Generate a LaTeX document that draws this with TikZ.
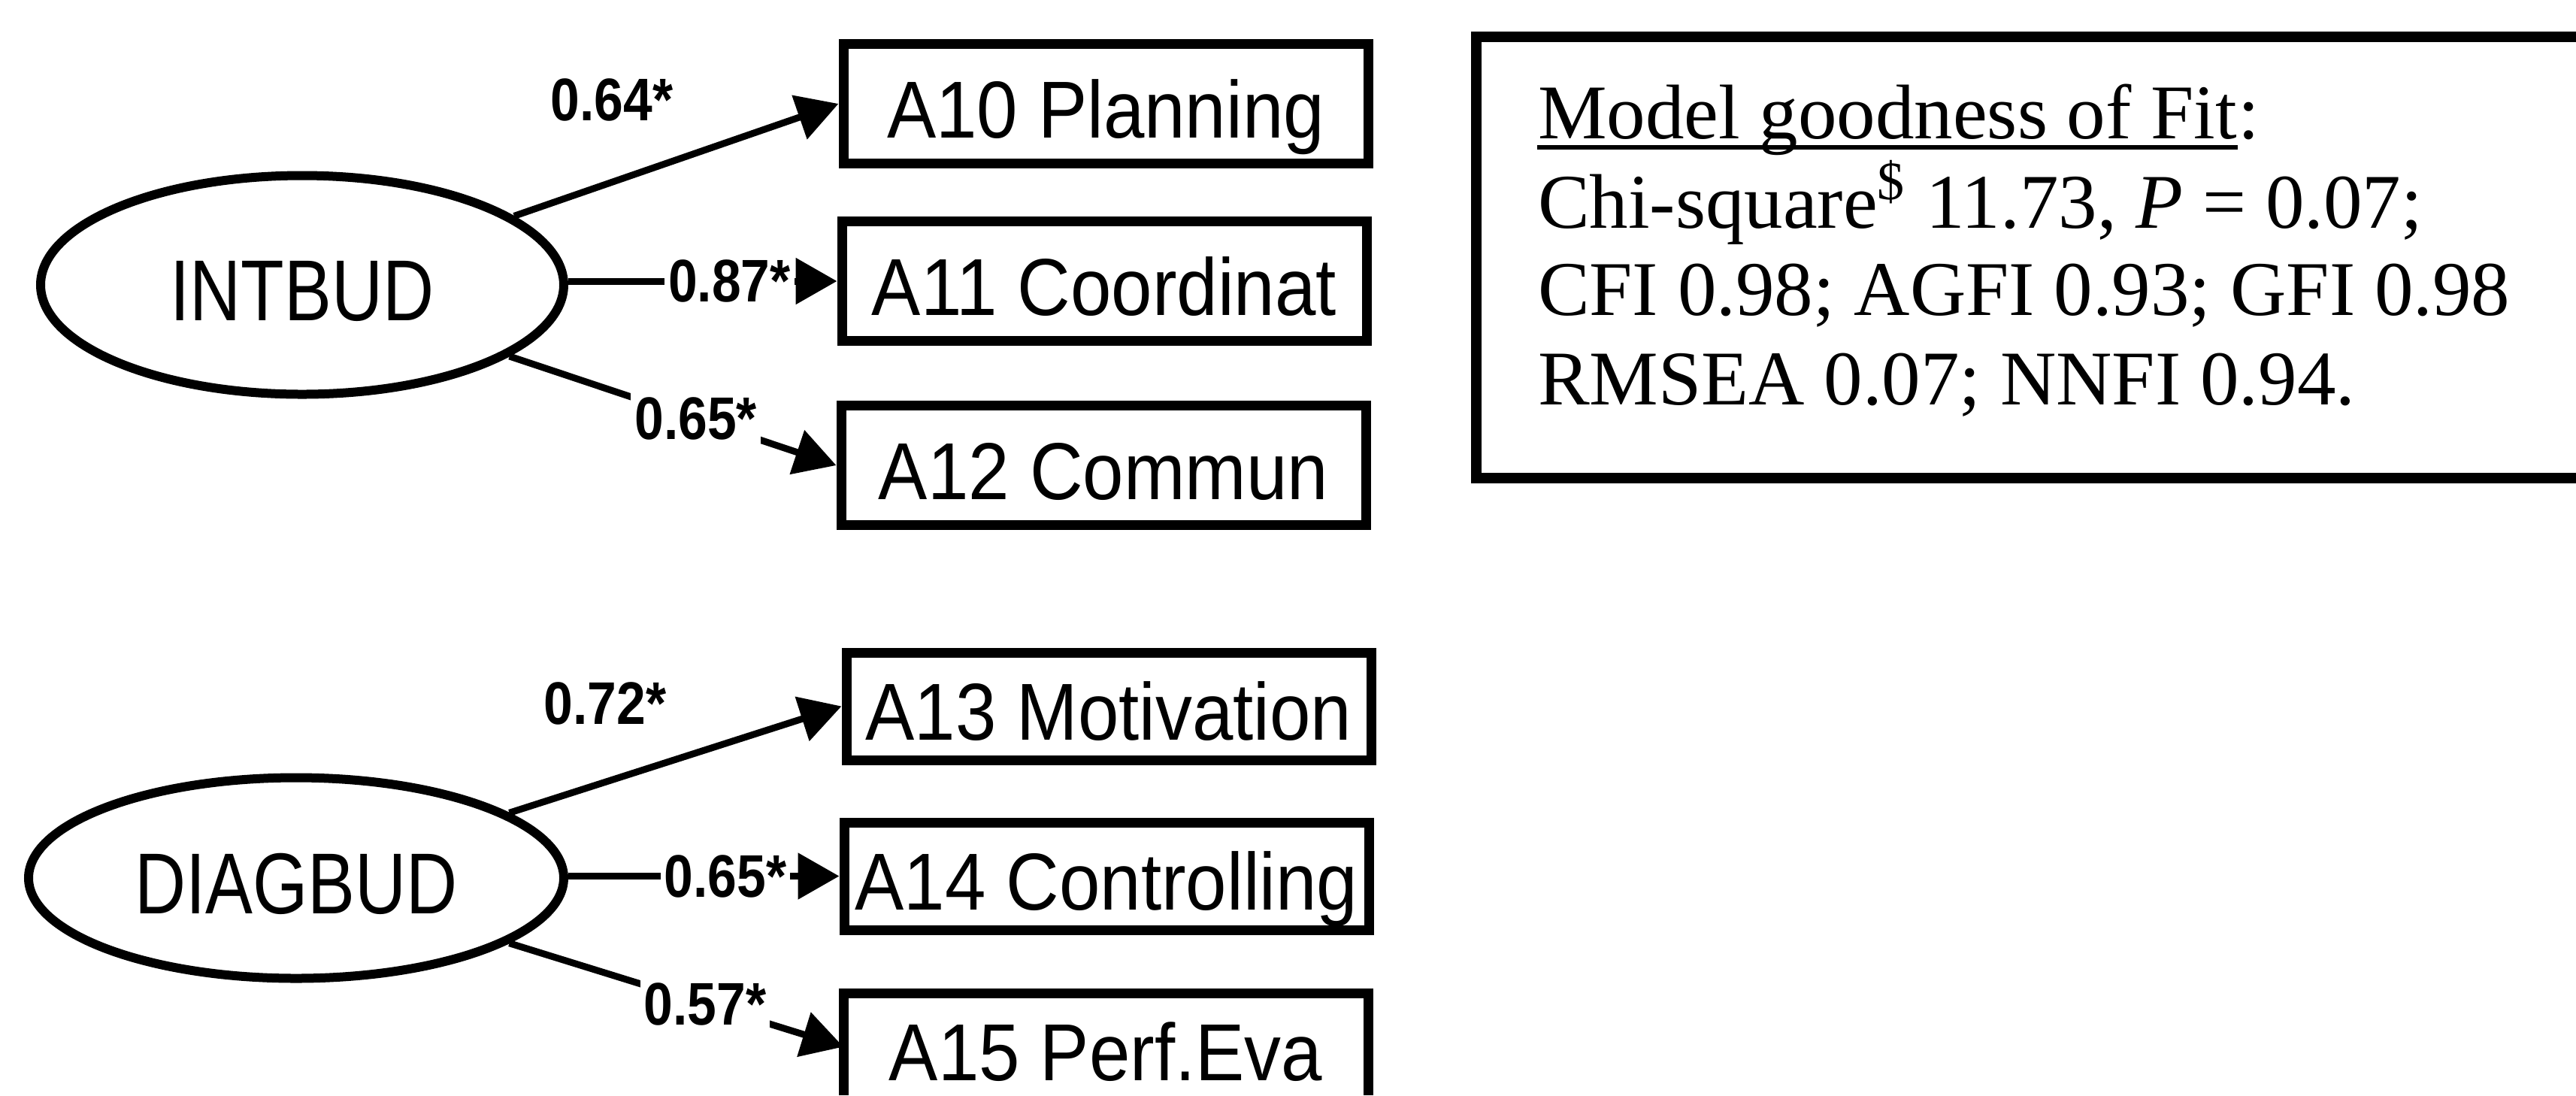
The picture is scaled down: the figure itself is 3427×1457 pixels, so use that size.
\documentclass[tikz,border=0pt]{standalone}
\usepackage{fontspec}
\setmainfont{Liberation Serif}
\newfontfamily\boxfont[FakeStretch=0.91]{Liberation Sans}
\newfontfamily\latfont[FakeStretch=0.82]{Liberation Sans}
\newfontfamily\edgefont[FakeStretch=0.87]{Liberation Sans}
\usetikzlibrary{shapes.geometric,arrows.meta}
\begin{document}
\begin{tikzpicture}[x=0.2pt,y=-0.2pt,
  latent/.style={ellipse, draw, line width=2.4pt, fill=white, inner sep=0pt,
    text height=19pt, text depth=0pt,
    font=\latfont\fontsize{23}{23}\selectfont},
  obs/.style={rectangle, draw, line width=2.6pt, minimum width=139.6pt, inner sep=0pt,
    text height=18pt, text depth=0pt,
    font=\boxfont\fontsize{21.5}{21.5}\selectfont},
  obsA/.style={obs, minimum height=31.8pt},
  obsB/.style={obs, minimum height=28.6pt},
  edgelab/.style={inner sep=1pt, font=\edgefont\bfseries\fontsize{16}{16}\selectfont},
  onlab/.style={edgelab, fill=white},
  conn/.style={line width=1.8pt, -{Triangle[length=11pt,width=12pt]}},
  fittext/.style={anchor=base west, inner sep=0pt, font=\fontsize{20.6}{24}\selectfont},
  fitframe/.style={line width=2.8pt}
]
\useasboundingbox (0,0) rectangle (3427,1457);
\coordinate (pgbottom) at (0,1457);
\coordinate (pgright) at (3427,0);

% latent variables
\node[latent, minimum width=139.2pt, minimum height=58.2pt] (int) at (402,379) {INTBUD};
\node[latent, minimum width=142.4pt, minimum height=53.4pt] (diag) at (394,1168) {DIAGBUD};

% observed variables
\node[obsA] (a10) at (1471,138) {A10 Planning};
\node[obsA] (a11) at (1469,374) {A11 Coordinat};
\node[obsA] (a12) at (1468,619) {A12 Commun};
\node[obsB] (a13) at (1475,939.5) {A13 Motivation};
\node[obsB] (a14) at (1472,1165.5) {A14 Controlling};
\node[obsB, draw=none, outer sep=0pt] (a15) at (1471,1392.5) {A15 Perf.Eva};
\draw[line width=2.6pt] (a15.north west |- pgbottom) -- (a15.north west) -- (a15.north east) -- (a15.north east |- pgbottom);

% connectors, group 1
\draw[conn] (int.18) -- (a10.west);
\node[edgelab] (e1) at (814,133) {0.64*};
\draw[conn] (int.east |- a11) -- node[onlab, pos=0.6] (e2) {0.87*} (a11.west);
\draw[conn] (int.-19) -- node[onlab, pos=0.57] (e3) {0.65*} (a12.west);

% connectors, group 2
\draw[conn] (diag.17) -- (a13.west);
\node[edgelab] (e4) at (805,936) {0.72*};
\draw[conn] (diag.east |- a14) -- node[onlab, pos=0.58] (e5) {0.65*} (a14.west);
\draw[conn] (diag.-17) -- node[onlab, pos=0.586] (e6) {0.57*} (a15.west);

% fit box
\draw[fitframe] (2100,49 -| pgright) -- (1964,49) -- (1964,636) -- (1964,636 -| pgright);
\node[fittext] (fit1) at (2045,184) {Model goodness of Fit};
\node[fittext] (fit1c) at (fit1.base east) {:};
\draw[line width=1.1pt] ([yshift=-2.4pt]fit1.base west) -- ([yshift=-2.4pt]fit1.base east);
\node[fittext] (fit2) at (2045,303) {Chi-square\textsuperscript{\$} 11.73, \textit{P} = 0.07;};
\node[fittext] (fit3) at (2045,419) {CFI 0.98; AGFI 0.93; GFI 0.98};
\node[fittext] (fit4) at (2045,538) {RMSEA 0.07; NNFI 0.94.};
\end{tikzpicture}
\end{document}
